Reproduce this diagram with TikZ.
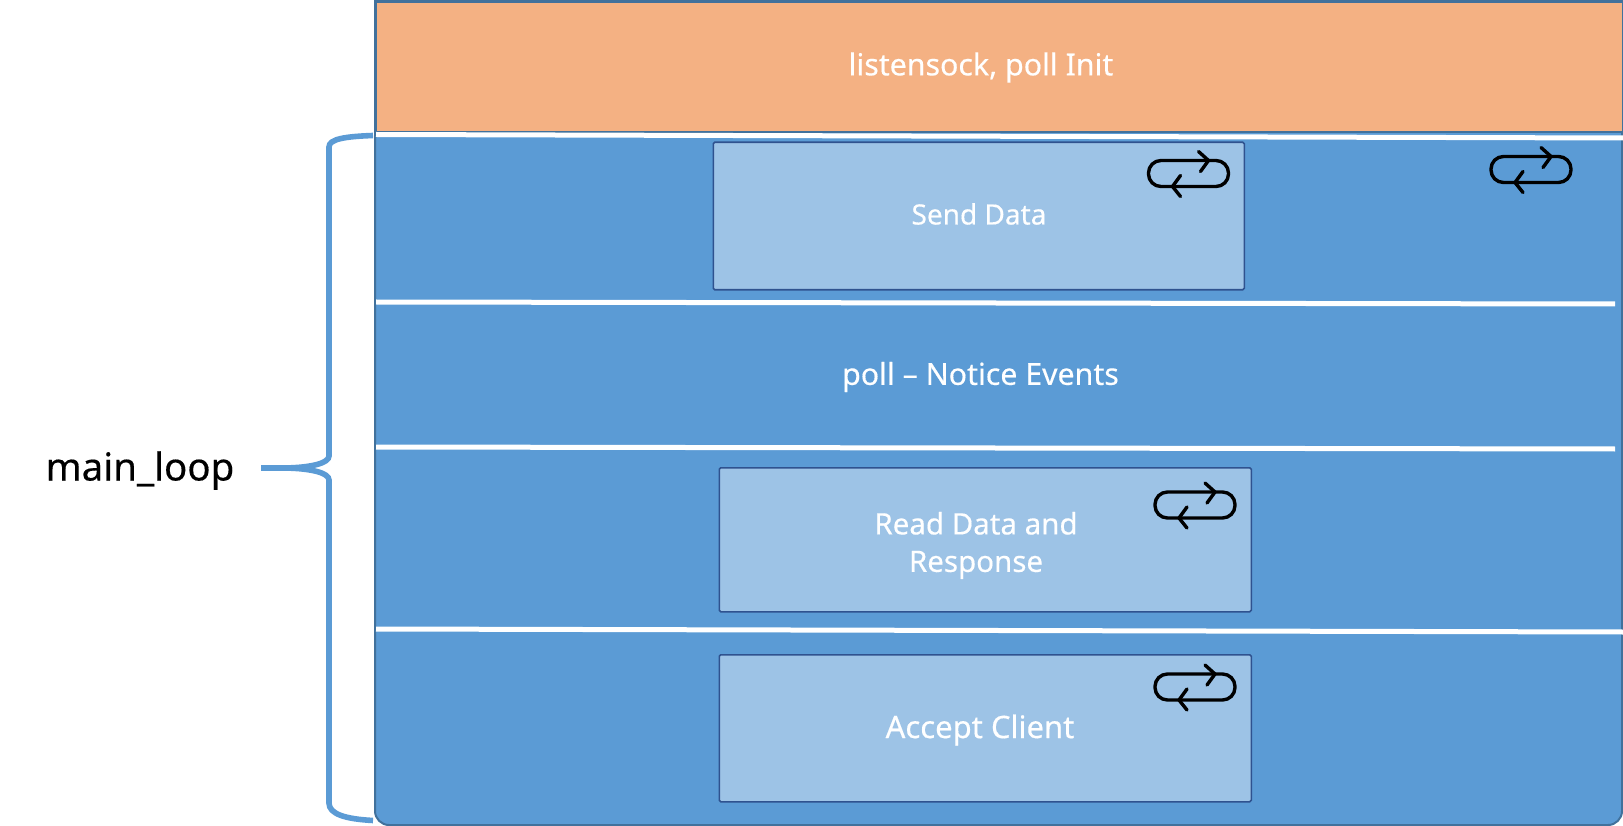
\documentclass[tikz,border=0pt]{standalone}
\usepackage{fontspec}
\setmainfont[FakeBold=0.35]{Noto Sans}
\usetikzlibrary{arrows.meta}
\definecolor{bandblue}{HTML}{5B9BD5}
\definecolor{edgeblue}{HTML}{41719C}
\definecolor{boxblue}{HTML}{9DC3E6}
\definecolor{boxedge}{HTML}{2F528F}
\definecolor{initorange}{HTML}{F4B183}
\tikzset{
	looppic/.pic={
		\draw[black,line width=3.4pt,line cap=round,rounded corners=12.5pt] (0,0) rectangle (80,26);
		\draw[black,line width=3.4pt,line cap=round,line join=round] (50,-9) -- (60,0) -- (52,11);
		\draw[black,line width=3.4pt,line cap=round,line join=round] (32,15) -- (24,26) -- (32,36);
	},
	lightbox/.style={draw=boxedge,line width=1.6pt,fill=boxblue,rounded corners=1.5pt},
	boxtext/.style={text=white,font=\fontsize{30}{37.5}\selectfont,align=center},
	bandtext/.style={text=white,font=\fontsize{30.3}{37}\selectfont},
	divider/.style={white,line width=5pt}
}
\begin{document}
\begin{tikzpicture}[x=1pt,y=-1pt]
	\useasboundingbox (0,0) rectangle (1623,826);
	\draw[draw=edgeblue,line width=2pt,fill=bandblue] (375,1) -- (375,811) [rounded corners=14pt] -- (375,825) -- (1622,825) [sharp corners] -- (1622,1) -- cycle;
	\node[draw=edgeblue,line width=2pt,fill=initorange,inner sep=0pt,minimum width=1247pt,minimum height=130pt,anchor=north west] (initband) at (375,1) {};
	\node[bandtext] (inittext) at (981,67.5) {listensock, poll Init};
	\node[bandtext] (polltext) at (980.5,377) {poll – Notice Events};
	\draw[divider] (376,134.5) -- (1623,138);
	\draw[divider] (376,302) -- (1615,304);
	\draw[divider] (376,447) -- (1615,449);
	\draw[divider] (376,629) -- (1623,632);
	\node[lightbox,minimum width=531pt,minimum height=147.5pt,anchor=north west] (senddata) at (712.5,141.5) {};
	\node[lightbox,minimum width=532pt,minimum height=144pt,anchor=north west] (readdata) at (718.5,467) {};
	\node[lightbox,minimum width=532pt,minimum height=147pt,anchor=north west] (acceptclient) at (718.5,654) {};
	\node[boxtext,font=\fontsize{28}{36}\selectfont] (sendtext) at (979,214) {Send Data};
	\node[boxtext,font=\fontsize{29.5}{37.5}\selectfont] (readtext) at (976,545.5) {Read Data and\\Response};
	\node[boxtext,font=\fontsize{31}{37}\selectfont] (accepttext) at (980,730) {Accept Client};
	\pic at (1148.5,160.5) {looppic};
	\pic at (1491,156.5) {looppic};
	\pic at (1155,492) {looppic};
	\pic at (1155,674) {looppic};
	\node[font=\fontsize{38.5}{46}\selectfont] (mainloop) at (140,470.5) {main\_loop};
	\draw[bandblue,line width=5.6pt] (373,135.5) .. controls (345,136.5) and (329,139) .. (329,147) -- (329,456) .. controls (329,463) and (312,467.5) .. (285,468) -- (261,468) -- (285,468) .. controls (312,468.5) and (329,473) .. (329,480) -- (329,803) .. controls (329,814) and (345,819) .. (373,820.5);
\end{tikzpicture}
\end{document}
